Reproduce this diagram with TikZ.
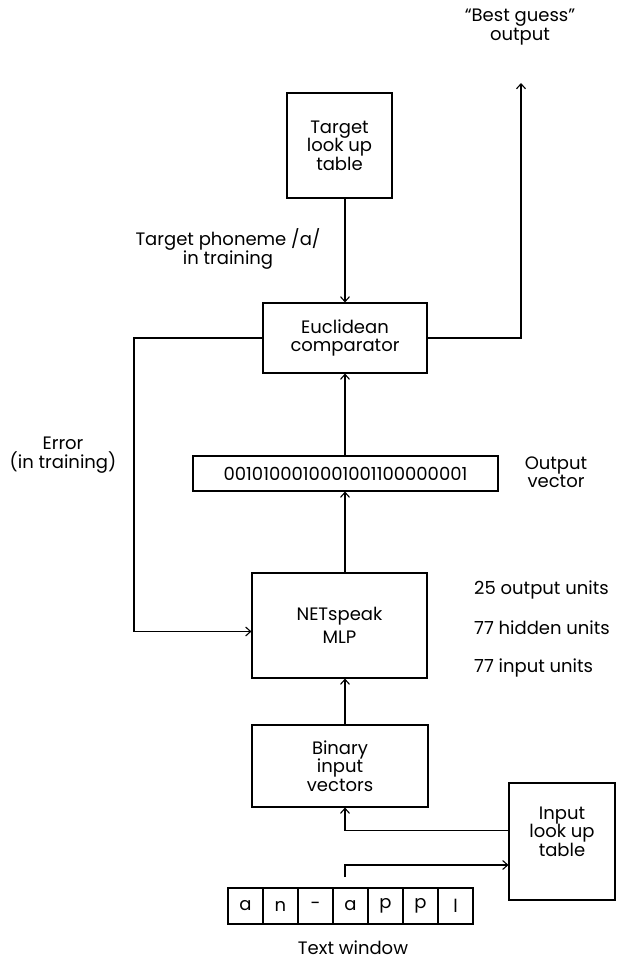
\documentclass[tikz,border=0pt]{standalone}
\usepackage{fontspec}
\setmainfont{Poppins}
\usetikzlibrary{arrows.meta, positioning, calc}

\tikzset{
  blockbox/.style={draw, line width=1.1pt, align=center, inner sep=0pt},
  plaintext/.style={align=center, inner sep=0pt},
  cellbox/.style={draw, line width=1.1pt, minimum width=35pt, minimum height=36pt, inner sep=0pt},
  arr/.style={line width=1.1pt, -{Straight Barb[length=5pt, width=9pt]}}
}

\begin{document}
\begin{tikzpicture}[x=1pt, y=-1pt, font=\fontsize{18}{18.5}\selectfont]
  \useasboundingbox (0,0) rectangle (616,963);

  % blocks
  \node[blockbox, minimum width=105pt, minimum height=105pt] (tgt) at (339.5,145.5) {Target\\look up\\table};
  \node[blockbox, minimum width=164pt, minimum height=70pt] (euc) at (345,338) {Euclidean\\comparator};
  \node[blockbox, minimum width=305pt, minimum height=35pt] (vec) at (345.5,473.5) {0010100010001001100000001};
  \node[blockbox, minimum width=175pt, minimum height=105pt] (mlp) at (339.5,625.5) {NETspeak\\[4pt]MLP};
  \node[blockbox, minimum width=176pt, minimum height=82pt] (bin) at (340,766) {Binary\\input\\vectors};
  \node[blockbox, minimum width=106pt, minimum height=117pt, text depth=20pt] (inp) at (562,841.5) {Input\\look up\\table};

  % text window
  \foreach \ch [count=\i] in {a,n,-,a,p,p,l} {
    \node[cellbox] (cell\i) at (228+35*\i-17.5,906) {\ch};
  }
  \node[plaintext] (twin) at (353,948) {Text window};

  % labels
  \node[plaintext] (best) at (520,27) {``Best guess''\\output};
  \node[plaintext] (tph) at (228,249) {Target phoneme /a/\\in training};
  \node[plaintext] (err) at (63,455) {Error\\(in training)};
  \node[plaintext] (outv) at (556,472) {Output\\vector};
  \node[plaintext, anchor=west] (nout) at (474,590) {25 output units};
  \node[plaintext, anchor=west] (nhid) at (474,628) {77 hidden units};
  \node[plaintext, anchor=west] (ninp) at (474,668) {77 input units};

  % connectors
  \coordinate (bestc) at (521,83);
  \coordinate (errc) at (134,338);
  \coordinate (twc) at (345,877);

  \draw[arr] (tgt.south -| euc.north) -- (euc.north);
  \draw[arr] (euc.east) -| (bestc);
  \draw[arr] (euc.west) -- (errc) |- ([yshift=-6pt]mlp.west);
  \draw[arr] (vec.north -| euc.south) -- (euc.south);
  \draw[arr] (mlp.north -| euc.south) -- (vec.south -| euc.south);
  \draw[arr] (bin.north -| euc.south) -- (mlp.south -| euc.south);
  \draw[arr] ([yshift=11pt]inp.west) -| (bin.south -| euc.south);
  \draw[arr] (twc) |- ([yshift=-23.5pt]inp.west);
\end{tikzpicture}
\end{document}
